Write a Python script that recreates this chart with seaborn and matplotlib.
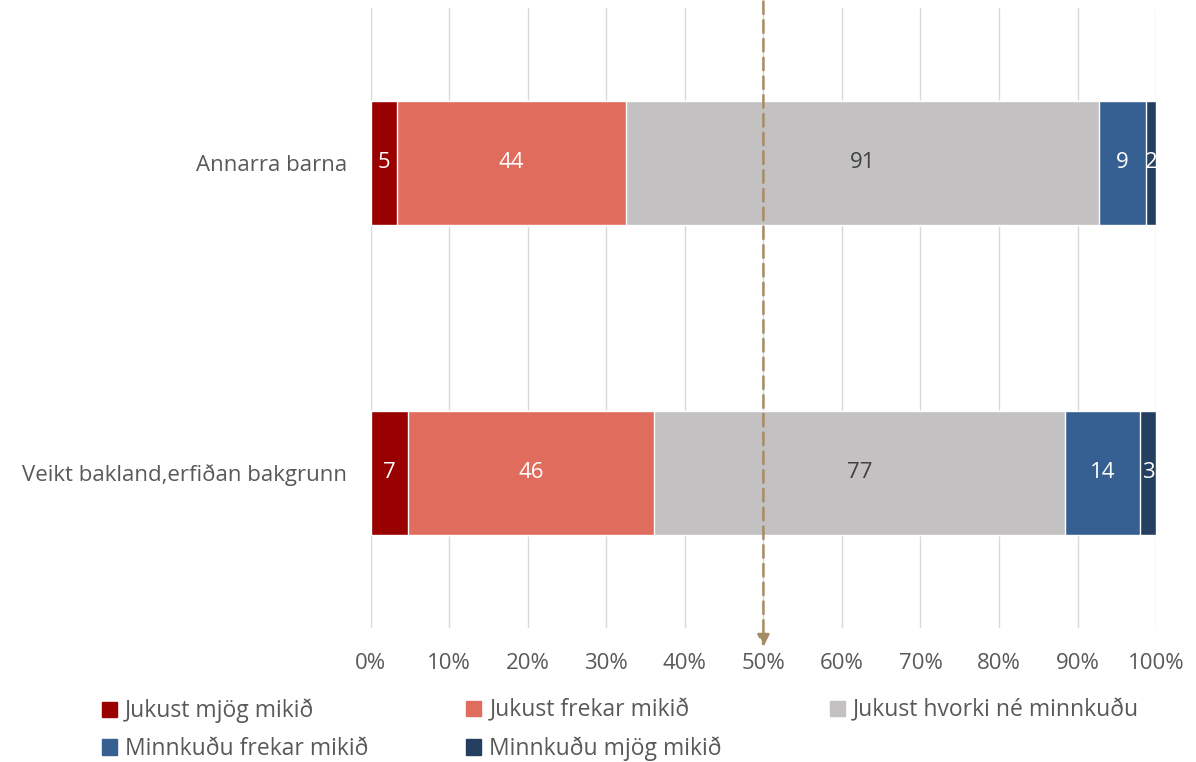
import numpy as np
import pandas as pd
import seaborn as sns
import matplotlib.pyplot as plt

# gögn lesin af myndinni
flokkar = ["Annarra barna", "Veikt bakland,erfiðan bakgrunn"]
svor = ["Jukust mjög mikið", "Jukust frekar mikið", "Jukust hvorki né minnkuðu",
        "Minnkuðu frekar mikið", "Minnkuðu mjög mikið"]
annarra = [5, 44, 91, 9, 2]
veikt = [7, 46, 77, 14, 3]
litir = ["#990000", "#E06C5E", "#C3C1C2", "#366092", "#243F60"]
x_merki = ["0%", "10%", "20%", "30%", "40%", "50%", "60%", "70%", "80%", "90%", "100%"]

sns.set_style("white")
plt.rcParams['font.family'] = ['Open Sans', 'DejaVu Sans']

fjoldi = np.array([annarra, veikt], dtype=float)
hlutfall = fjoldi / fjoldi.sum(axis=1, keepdims=True) * 100
uppsafnad = np.cumsum(hlutfall, axis=1)

fig = plt.figure(figsize=(11.96, 7.62), dpi=100)
ax = fig.add_axes([0.310, 0.176, 0.6566, 0.8135])

# teikna frá lengsta uppsafnaða yfir í það stysta
for i in range(len(svor) - 1, -1, -1):
    df = pd.DataFrame({"flokkur": flokkar, "gildi": uppsafnad[:, i]})
    sns.barplot(data=df, x="gildi", y="flokkur", orient="h", color=litir[i],
                width=0.4, saturation=1, ax=ax, zorder=3)

# tölur inn í bútana
for r in range(len(flokkar)):
    byrjun = 0
    for i in range(len(svor)):
        midja = byrjun + hlutfall[r, i] / 2
        lit = "#404040" if i == 2 else "white"
        ax.text(midja, r, str(int(fjoldi[r, i])), ha="center", va="center",
                color=lit, fontsize=16, zorder=5)
        byrjun += hlutfall[r, i]

ax.set_xlim(0, 100)
ax.set_ylim(1.5, -0.5)
ax.set_xticks(np.arange(0, 101, 10))
ax.set_xticklabels(x_merki)
ax.set_xlabel("")
ax.set_ylabel("")
ax.grid(axis="x", color="#D9D9D9", linewidth=1, zorder=0)
ax.set_axisbelow(True)
for s in ax.spines.values():
    s.set_visible(False)
ax.tick_params(axis="both", length=0, labelsize=16, labelcolor="#595959")
ax.tick_params(axis="x", pad=18)
ax.tick_params(axis="y", pad=17)

# brotin lína við 50% með ör
ax.annotate("", xy=(50, 1.57), xytext=(50, -0.53), xycoords="data",
            arrowprops=dict(arrowstyle="-|>", color="#A68C64", lw=1.8,
                            linestyle=(0, (5, 2.5)), mutation_scale=18),
            annotation_clip=False, zorder=6)

# skýringar, einn dálkur í einu
dalkar = [[0, 3], [1, 4], [2]]
x_dalka = [0.085, 0.390, 0.694]
for d, xd in zip(dalkar, x_dalka):
    handles = [plt.Rectangle((0, 0), 1, 1, color=litir[k]) for k in d]
    fig.legend(handles, [svor[k] for k in d], loc="upper left",
               bbox_to_anchor=(xd, 0.083), frameon=False, fontsize=16.5,
               labelcolor="#595959", handlelength=0.65, handleheight=0.65,
               handletextpad=0.35, labelspacing=0.6, borderaxespad=0, borderpad=0)

fig.savefig("out.png", dpi=100)
